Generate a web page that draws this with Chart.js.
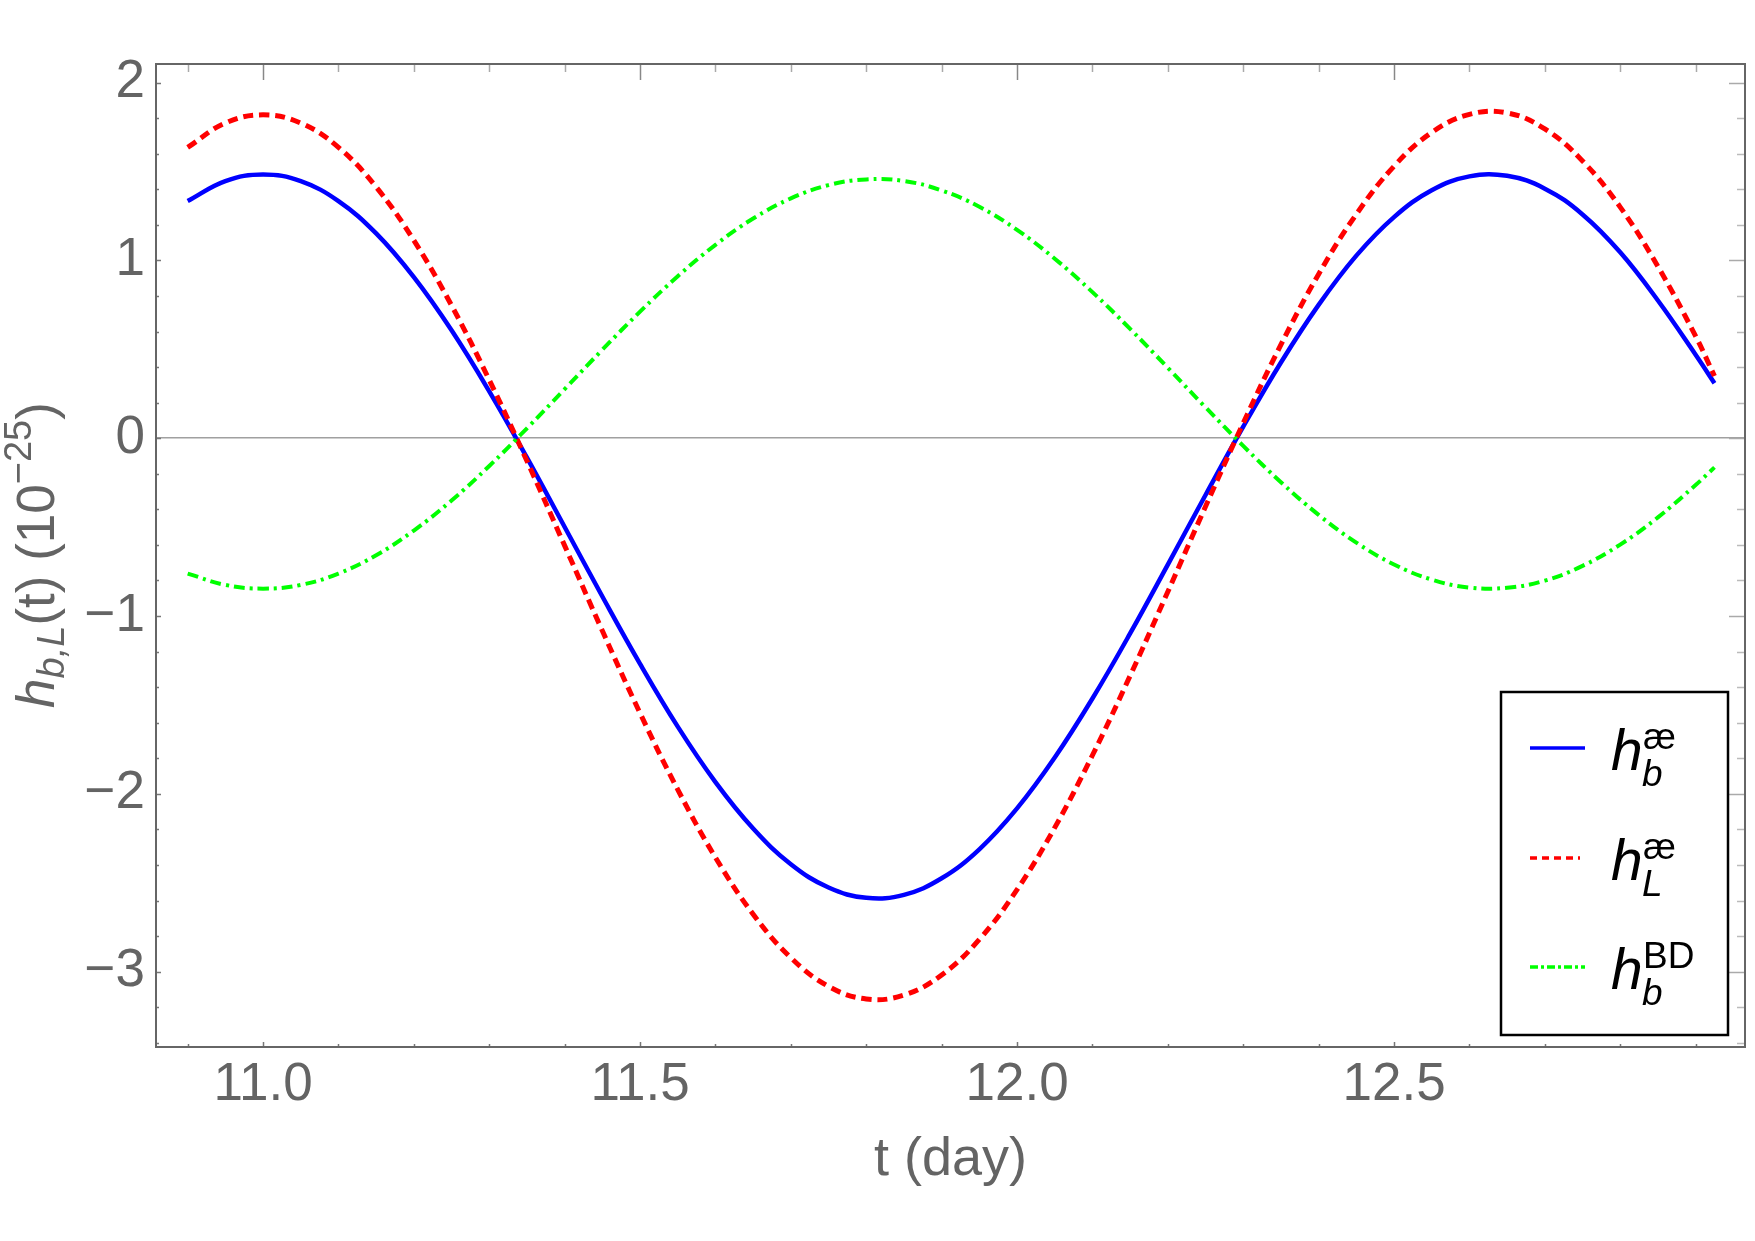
<!DOCTYPE html>
<html><head><meta charset="utf-8">
<script src="https://cdn.jsdelivr.net/npm/chart.js@4"></script>
<style>html,body{margin:0;padding:0;background:#fff}#wrap{width:1755px;height:1241px;position:relative}</style>
</head><body><div id="wrap"><canvas id="c" width="1755" height="1241"></canvas></div>
<script>
// t in days
const tValues = [10.90,10.95,11.00,11.05,11.10,11.15,11.20,11.25,11.30,11.35,11.40,11.45,11.50,11.55,11.60,11.65,11.70,11.75,11.80,11.85,11.90,11.95,12.00,12.05,12.10,12.15,12.20,12.25,12.30,12.35,12.40,12.45,12.50,12.55,12.60,12.65,12.70,12.75,12.80,12.85,12.90,12.925];
// h_b^ae (blue, solid)
const hbAe = [1.334,1.446,1.484,1.446,1.334,1.152,0.906,0.607,0.264,-0.109,-0.499,-0.890,-1.269,-1.622,-1.934,-2.195,-2.396,-2.527,-2.585,-2.568,-2.475,-2.312,-2.082,-1.796,-1.464,-1.098,-0.711,-0.319,0.065,0.426,0.750,1.027,1.244,1.395,1.473,1.476,1.404,1.259,1.046,0.775,0.470,0.310];
// h_L^ae (red, dashed)
const hLAe = [1.636,1.773,1.819,1.773,1.636,1.413,1.113,0.747,0.328,-0.128,-0.604,-1.083,-1.546,-1.976,-2.358,-2.677,-2.922,-3.083,-3.154,-3.132,-3.019,-2.819,-2.539,-2.190,-1.783,-1.336,-0.863,-0.384,0.085,0.526,0.923,1.260,1.530,1.720,1.822,1.830,1.740,1.560,1.300,0.966,0.574,0.350];
// h_b^BD (green, dot-dashed)
const hbBD = [-0.761,-0.825,-0.846,-0.825,-0.761,-0.658,-0.519,-0.350,-0.156,0.056,0.276,0.498,0.712,0.911,1.088,1.236,1.349,1.424,1.456,1.447,1.394,1.302,1.172,1.010,0.822,0.615,0.396,0.174,-0.043,-0.247,-0.431,-0.587,-0.710,-0.795,-0.840,-0.841,-0.801,-0.718,-0.598,-0.445,-0.263,-0.164];

const xTickValues = [11.0, 11.5, 12.0, 12.5];
const xTickLabels = ['11.0', '11.5', '12.0', '12.5'];
const yTickValues = [-3, -2, -1, 0, 1, 2];
const yTickLabels = ['\u22123', '\u22122', '\u22121', '0', '1', '2'];
const xRange = [10.858, 12.9655];
const yRange = [-3.424, 2.105];

const GRAY = '#646464';
const FONT = "'Liberation Sans', Arial, Helvetica, sans-serif";

function pts(arr) { return tValues.map((t, i) => ({ x: t, y: arr[i] })); }

const framePlugin = {
  id: 'frameAndText',
  afterDraw(chart) {
    const ctx = chart.ctx;
    const a = chart.chartArea;
    const xs = chart.scales.x, ys = chart.scales.y;
    ctx.save();
    // ticks
    ctx.lineWidth = 1.5;
    for (let k = Math.ceil(xRange[0] * 10); k <= Math.floor(xRange[1] * 10); k++) {
      const v = k / 10, px = Math.round(xs.getPixelForValue(v)) + 0.5, major = (k % 5 === 0);
      ctx.strokeStyle = '#777';
      ctx.beginPath(); ctx.moveTo(px, a.bottom); ctx.lineTo(px, a.bottom - (major ? 5 : 3)); ctx.stroke();
      ctx.strokeStyle = major ? '#888' : '#aaa';
      ctx.beginPath(); ctx.moveTo(px, a.top); ctx.lineTo(px, a.top + (major ? 16 : 8)); ctx.stroke();
    }
    for (let k = Math.ceil(yRange[0] * 5); k <= Math.floor(yRange[1] * 5); k++) {
      const v = k / 5, py = Math.round(ys.getPixelForValue(v)) + 0.5, major = (k % 5 === 0);
      ctx.strokeStyle = '#777';
      ctx.beginPath(); ctx.moveTo(a.left, py); ctx.lineTo(a.left + (major ? 5 : 3), py); ctx.stroke();
      ctx.strokeStyle = major ? '#aaa' : '#bbb';
      ctx.beginPath(); ctx.moveTo(a.right, py); ctx.lineTo(a.right - (major ? 16 : 8), py); ctx.stroke();
    }
    // frame
    ctx.strokeStyle = '#666';
    ctx.lineWidth = 2;
    ctx.strokeRect(a.left, a.top, a.right - a.left, a.bottom - a.top);

    // y axis title: h_{b,L}(t) (10^{-25})
    const parts = [
      { t: 'h', f: 'italic 53px ' + FONT, dy: 0 },
      { t: 'b,L', f: 'italic 38px ' + FONT, dy: 10 },
      { t: '(t) (10', f: '53px ' + FONT, dy: 0 },
      { t: '\u221225', f: '38px ' + FONT, dy: -23 },
      { t: ')', f: '53px ' + FONT, dy: 0 }
    ];
    let total = 0;
    parts.forEach(p => { ctx.font = p.f; p.w = ctx.measureText(p.t).width; total += p.w; });
    ctx.translate(54, 555);
    ctx.rotate(-Math.PI / 2);
    ctx.fillStyle = GRAY;
    ctx.textBaseline = 'alphabetic';
    ctx.textAlign = 'left';
    let x = -total / 2;
    parts.forEach(p => { ctx.font = p.f; ctx.fillText(p.t, x, p.dy); x += p.w; });
    ctx.restore();

    // legend
    ctx.save();
    ctx.strokeStyle = '#000';
    ctx.lineWidth = 2.5;
    ctx.strokeRect(1501, 692, 227, 343);
    const rows = [
      { y: 748, color: '#0000ff', dash: [], sup: '\u00e6', sub: 'b', x2: 1585 },
      { y: 858, color: '#ff0000', dash: [7, 5], sup: '\u00e6', sub: 'L', x2: 1580 },
      { y: 967, color: '#00ff00', dash: [8, 3, 3, 3], sup: 'BD', sub: 'b', x2: 1585 }
    ];
    rows.forEach(r => {
      ctx.strokeStyle = r.color;
      ctx.lineWidth = 3.5;
      ctx.setLineDash(r.dash);
      ctx.beginPath(); ctx.moveTo(1530, r.y); ctx.lineTo(r.x2, r.y); ctx.stroke();
      ctx.setLineDash([]);
      ctx.fillStyle = '#000';
      ctx.textAlign = 'left';
      ctx.textBaseline = 'alphabetic';
      ctx.font = 'italic 57px ' + FONT;
      ctx.fillText('h', 1611, r.y + 22);
      ctx.font = '37px ' + FONT;
      ctx.fillText(r.sup, 1643, r.y + 1);
      ctx.font = 'italic 37px ' + FONT;
      ctx.fillText(r.sub, 1642, r.y + 38);
    });
    ctx.restore();
  }
};

new Chart(document.getElementById('c'), {
  type: 'line',
  data: {
    datasets: [
      { label: 'h_b^æ', data: pts(hbAe), borderColor: '#0000ff', borderWidth: 4.5, pointRadius: 0, tension: 0.4, fill: false, order: 3 },
      { label: 'h_L^æ', data: pts(hLAe), borderColor: '#ff0000', borderWidth: 5, borderDash: [10, 6], pointRadius: 0, tension: 0.4, fill: false, order: 2 },
      { label: 'h_b^BD', data: pts(hbBD), borderColor: '#00ff00', borderWidth: 4, borderDash: [11, 5, 3, 5], pointRadius: 0, tension: 0.4, fill: false, order: 1 }
    ]
  },
  options: {
    responsive: false,
    animation: false,
    devicePixelRatio: 1,
    layout: { padding: { left: 0, right: 10, top: 64, bottom: 0 } },
    plugins: { legend: { display: false }, tooltip: { enabled: false } },
    scales: {
      x: {
        type: 'linear', min: xRange[0], max: xRange[1],
        afterBuildTicks: s => { s.ticks = xTickValues.map(v => ({ value: v })); },
        afterFit: s => { s.height = 194; },
        ticks: { callback: v => xTickLabels[xTickValues.indexOf(v)], font: { family: FONT, size: 53 }, color: GRAY, padding: 7, autoSkip: false, maxRotation: 0 },
        grid: { display: false, drawTicks: false },
        border: { display: false },
        title: { display: true, text: 't (day)', font: { family: FONT, size: 54 }, color: GRAY, padding: { top: 0, bottom: 48 } }
      },
      y: {
        type: 'linear', min: yRange[0], max: yRange[1],
        afterBuildTicks: s => { s.ticks = yTickValues.map(v => ({ value: v })); },
        afterFit: s => { s.width = 156; },
        ticks: { callback: v => yTickLabels[yTickValues.indexOf(v)], font: { family: FONT, size: 53 }, color: GRAY, padding: 11, autoSkip: false },
        grid: { drawTicks: false, lineWidth: 1.5, color: c => (c.tick && c.tick.value === 0) ? '#a0a0a0' : 'rgba(0,0,0,0)' },
        border: { display: false }
      }
    }
  },
  plugins: [framePlugin]
});
</script>
</body></html>
